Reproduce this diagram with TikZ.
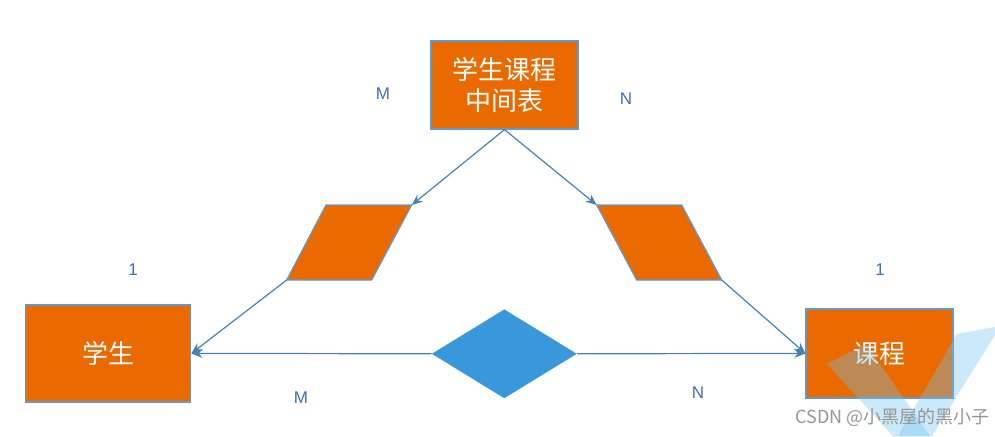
\documentclass[tikz,border=0pt]{standalone}
\usepackage{fontspec}
\setmainfont{Liberation Sans}
\newfontfamily\cjk{Noto Sans CJK SC}
\usetikzlibrary{shapes.geometric,arrows.meta}
\definecolor{boxorange}{RGB}{234,106,0}
\definecolor{boxedge}{RGB}{91,155,213}
\definecolor{linkblue}{RGB}{70,130,180}
\definecolor{diamblue}{RGB}{56,152,219}
\definecolor{labelblue}{RGB}{62,110,190}
\definecolor{wmblue}{RGB}{110,195,240}
\definecolor{wmgray}{RGB}{150,150,150}
\tikzset{
  entity/.style={draw=boxedge, line width=1.2pt, fill=boxorange, text=white,
    font=\cjk\fontsize{26}{30}\selectfont, align=center, inner sep=0pt},
  para/.style={draw=boxedge, line width=1.2pt, fill=boxorange},
  link/.style={draw=linkblue, line width=1.2pt, -{Stealth[length=11pt,width=9pt]}},
  card/.style={text=labelblue, font=\fontsize{17}{19}\selectfont},
}
\begin{document}
\begin{tikzpicture}[x=1pt,y=-1pt]
\useasboundingbox (0,0) rectangle (995,436);
\fill[white] (0,0) rectangle (995,436);

% entities
\node[entity, minimum width=147pt, minimum height=88pt] (mid) at (504.5,85) {学生课程\\[1pt]中间表};
\node[entity, minimum width=165pt, minimum height=97pt] (stu) at (108.3,353.4) {学生};
\node[entity, minimum width=147pt, minimum height=89pt] (cou) at (879.5,353.4) {课程};

% parallelograms
\coordinate (LPtl) at (326,205);
\coordinate (LPtr) at (411.7,205);
\coordinate (LPbr) at (371.7,280);
\coordinate (LPbl) at (286.7,280);
\coordinate (RPtl) at (596.7,205);
\coordinate (RPtr) at (681.7,205);
\coordinate (RPbr) at (721.7,280);
\coordinate (RPbl) at (636.7,280);
\draw[para] (LPtl) -- (LPtr) -- (LPbr) -- (LPbl) -- cycle;
\draw[para] (RPtl) -- (RPtr) -- (RPbr) -- (RPbl) -- cycle;

% diamond
\node[diamond, fill=diamblue, inner sep=0pt, minimum width=145pt, minimum height=89pt] (rel) at (504.3,353.8) {};

% connectors
\draw[link] (mid.south) -- (LPtr);
\draw[link] (mid.south) -- (RPtl);
\draw[link] (LPbl) -- (stu.east);
\draw[link] (RPbr) -- (cou.west);
\draw[link] (rel.west) -- (stu.east);
\draw[link] (rel.east) -- (cou.west);

% cardinalities
\node[card] (m1) at (383,94) {M};
\node[card] (n1) at (626,99) {N};
\node[card] (o1) at (133,270) {1};
\node[card] (o2) at (880,270) {1};
\node[card] (m2) at (301,398) {M};
\node[card] (n2) at (698,393) {N};

% watermark logo (over the box)
\fill[wmblue, opacity=0.36] (827,364) -- (866,344) -- (930,436) -- (893,436) -- cycle;
\fill[wmblue, opacity=0.36] (957,334) -- (995,327) -- (995,335) -- (932,436) -- (898,436) -- cycle;

% watermark text
\node[text=wmgray, font=\cjk\fontsize{18}{20}\selectfont, anchor=east, inner sep=0pt] (wm) at (990,417) {CSDN @小黑屋的黑小子};
\end{tikzpicture}
\end{document}
